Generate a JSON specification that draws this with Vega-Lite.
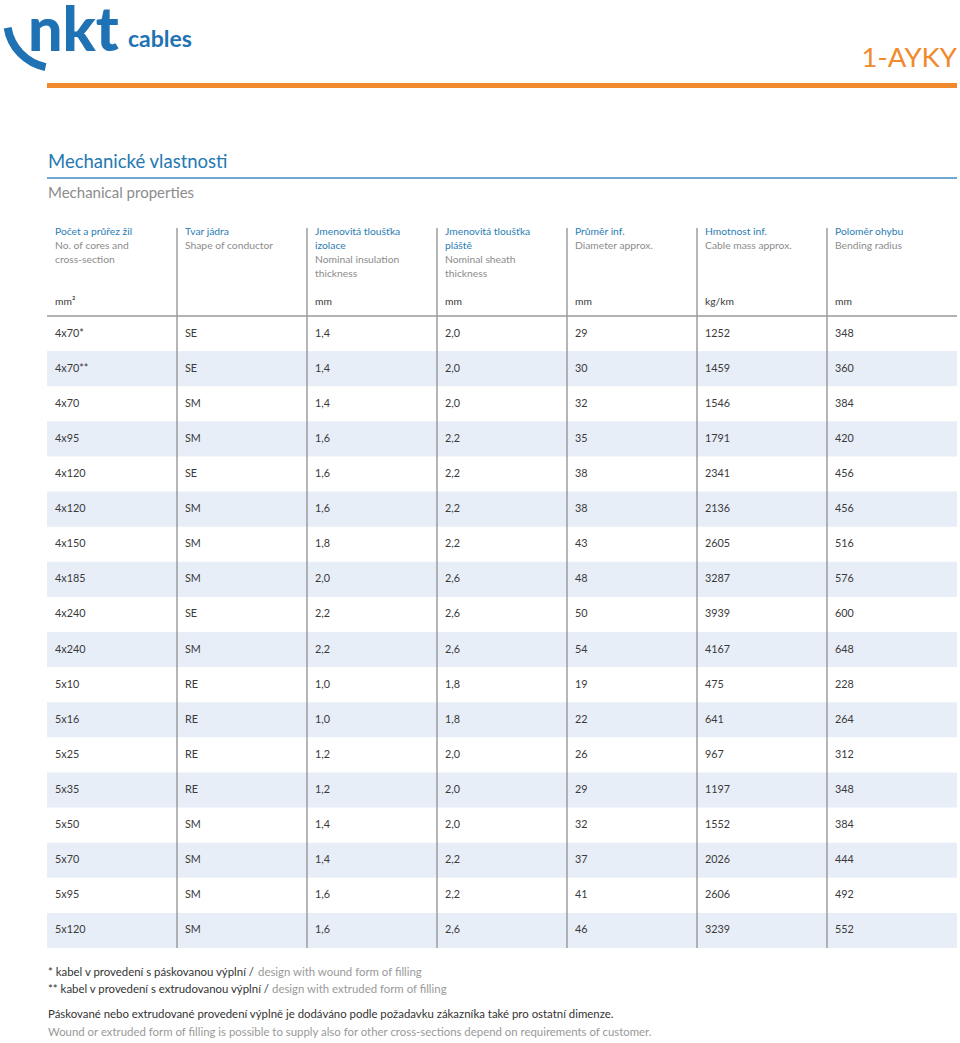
{
  "$schema": "https://vega.github.io/schema/vega-lite/v6.json",
  "width": 960,
  "height": 1043,
  "autosize": {"type": "none"},
  "padding": 0,
  "background": "white",
  "config": {"view": {"stroke": null}, "text": {"font": "Lato"}},
  "datasets": {
    "cables": [
      {"r": 1, "a": "4x70*", "shape": "SE", "ins": "1,4", "sheath": "2,0", "dia": "29", "mass": "1252", "radius": "348"},
      {"r": 2, "a": "4x70**", "shape": "SE", "ins": "1,4", "sheath": "2,0", "dia": "30", "mass": "1459", "radius": "360"},
      {"r": 3, "a": "4x70", "shape": "SM", "ins": "1,4", "sheath": "2,0", "dia": "32", "mass": "1546", "radius": "384"},
      {"r": 4, "a": "4x95", "shape": "SM", "ins": "1,6", "sheath": "2,2", "dia": "35", "mass": "1791", "radius": "420"},
      {"r": 5, "a": "4x120", "shape": "SE", "ins": "1,6", "sheath": "2,2", "dia": "38", "mass": "2341", "radius": "456"},
      {"r": 6, "a": "4x120", "shape": "SM", "ins": "1,6", "sheath": "2,2", "dia": "38", "mass": "2136", "radius": "456"},
      {"r": 7, "a": "4x150", "shape": "SM", "ins": "1,8", "sheath": "2,2", "dia": "43", "mass": "2605", "radius": "516"},
      {"r": 8, "a": "4x185", "shape": "SM", "ins": "2,0", "sheath": "2,6", "dia": "48", "mass": "3287", "radius": "576"},
      {"r": 9, "a": "4x240", "shape": "SE", "ins": "2,2", "sheath": "2,6", "dia": "50", "mass": "3939", "radius": "600"},
      {"r": 10, "a": "4x240", "shape": "SM", "ins": "2,2", "sheath": "2,6", "dia": "54", "mass": "4167", "radius": "648"},
      {"r": 11, "a": "5x10", "shape": "RE", "ins": "1,0", "sheath": "1,8", "dia": "19", "mass": "475", "radius": "228"},
      {"r": 12, "a": "5x16", "shape": "RE", "ins": "1,0", "sheath": "1,8", "dia": "22", "mass": "641", "radius": "264"},
      {"r": 13, "a": "5x25", "shape": "RE", "ins": "1,2", "sheath": "2,0", "dia": "26", "mass": "967", "radius": "312"},
      {"r": 14, "a": "5x35", "shape": "RE", "ins": "1,2", "sheath": "2,0", "dia": "29", "mass": "1197", "radius": "348"},
      {"r": 15, "a": "5x50", "shape": "SM", "ins": "1,4", "sheath": "2,0", "dia": "32", "mass": "1552", "radius": "384"},
      {"r": 16, "a": "5x70", "shape": "SM", "ins": "1,4", "sheath": "2,2", "dia": "37", "mass": "2026", "radius": "444"},
      {"r": 17, "a": "5x95", "shape": "SM", "ins": "1,6", "sheath": "2,2", "dia": "41", "mass": "2606", "radius": "492"},
      {"r": 18, "a": "5x120", "shape": "SM", "ins": "1,6", "sheath": "2,6", "dia": "46", "mass": "3239", "radius": "552"}
    ],
    "header": [
      {"col": "a", "line": 0, "kind": "cz", "text": "Počet a průřez žil"},
      {"col": "a", "line": 1, "kind": "en", "text": "No. of cores and"},
      {"col": "a", "line": 2, "kind": "en", "text": "cross-section"},
      {"col": "a", "line": 5, "kind": "unit", "text": "mm²"},
      {"col": "shape", "line": 0, "kind": "cz", "text": "Tvar jádra"},
      {"col": "shape", "line": 1, "kind": "en", "text": "Shape of conductor"},
      {"col": "ins", "line": 0, "kind": "cz", "text": "Jmenovitá tloušťka"},
      {"col": "ins", "line": 1, "kind": "cz", "text": "izolace"},
      {"col": "ins", "line": 2, "kind": "en", "text": "Nominal insulation"},
      {"col": "ins", "line": 3, "kind": "en", "text": "thickness"},
      {"col": "ins", "line": 5, "kind": "unit", "text": "mm"},
      {"col": "sheath", "line": 0, "kind": "cz", "text": "Jmenovitá tloušťka"},
      {"col": "sheath", "line": 1, "kind": "cz", "text": "pláště"},
      {"col": "sheath", "line": 2, "kind": "en", "text": "Nominal sheath"},
      {"col": "sheath", "line": 3, "kind": "en", "text": "thickness"},
      {"col": "sheath", "line": 5, "kind": "unit", "text": "mm"},
      {"col": "dia", "line": 0, "kind": "cz", "text": "Průměr inf."},
      {"col": "dia", "line": 1, "kind": "en", "text": "Diameter approx."},
      {"col": "dia", "line": 5, "kind": "unit", "text": "mm"},
      {"col": "mass", "line": 0, "kind": "cz", "text": "Hmotnost inf."},
      {"col": "mass", "line": 1, "kind": "en", "text": "Cable mass approx."},
      {"col": "mass", "line": 5, "kind": "unit", "text": "kg/km"},
      {"col": "radius", "line": 0, "kind": "cz", "text": "Poloměr ohybu"},
      {"col": "radius", "line": 1, "kind": "en", "text": "Bending radius"},
      {"col": "radius", "line": 5, "kind": "unit", "text": "mm"}
    ],
    "seps": [
      {"col": "shape"}, {"col": "ins"}, {"col": "sheath"}, {"col": "dia"}, {"col": "mass"}, {"col": "radius"}
    ],
    "notes": [
      {"key": "nkt", "text": "nkt"},
      {"key": "cables", "text": "cables"},
      {"key": "code", "text": "1-AYKY"},
      {"key": "title", "text": "Mechanické vlastnosti"},
      {"key": "subtitle", "text": "Mechanical properties"},
      {"key": "f1cz", "text": "* kabel v provedení s páskovanou výplní /"},
      {"key": "f1en", "text": "design with wound form of filling"},
      {"key": "f2cz", "text": "** kabel v provedení s extrudovanou výplní /"},
      {"key": "f2en", "text": "design with extruded form of filling"},
      {"key": "f3", "text": "Páskované nebo extrudované provedení výplně je dodáváno podle požadavku zákazníka také pro ostatní dimenze."},
      {"key": "f4", "text": "Wound or extruded form of filling is possible to supply also for other cross-sections depend on requirements of customer."}
    ]
  },
  "resolve": {"scale": {"y": "independent"}},
  "layer": [
    {
      "data": {"name": "cables"},
      "transform": [
        {"fold": ["a", "shape", "ins", "sheath", "dia", "mass", "radius"], "as": ["col", "val"]},
        {"filter": "datum.r % 2 == 0"}
      ],
      "mark": {"type": "rect", "color": "#e8eef7"},
      "encoding": {
        "x": {"field": "col", "type": "nominal", "axis": null,
              "scale": {"type": "band", "domain": ["a", "shape", "ins", "sheath", "dia", "mass", "radius"], "range": [47, 957], "paddingInner": 0, "paddingOuter": 0}},
        "y": {"field": "r", "type": "ordinal", "axis": null,
              "scale": {"type": "band", "domain": [1,2,3,4,5,6,7,8,9,10,11,12,13,14,15,16,17,18], "range": [316, 948], "paddingInner": 0, "paddingOuter": 0}}
      }
    },
    {
      "data": {"name": "seps"},
      "mark": {"type": "rule", "color": "#8e8e8e", "strokeWidth": 1.3},
      "encoding": {
        "x": {"field": "col", "type": "nominal", "bandPosition": 0, "axis": null},
        "y": {"datum": 0, "type": "quantitative", "axis": null, "scale": {"domain": [0, 1], "range": [228, 948], "nice": false, "zero": false}},
        "y2": {"datum": 1}
      }
    },
    {
      "data": {"values": [{}]},
      "mark": {"type": "rule", "color": "#9a9a9a", "strokeWidth": 1.4},
      "encoding": {
        "x": {"datum": "a", "type": "nominal", "bandPosition": 0, "axis": null},
        "x2": {"datum": "radius", "bandPosition": 1},
        "y": {"datum": 6, "type": "quantitative", "axis": null, "scale": {"domain": [0, 5], "range": [232, 302], "nice": false, "zero": false}}
      }
    },
    {
      "data": {"name": "header"},
      "mark": {"type": "text", "align": "left", "baseline": "middle", "dx": 8},
      "encoding": {
        "x": {"field": "col", "type": "nominal", "bandPosition": 0, "axis": null},
        "y": {"field": "line", "type": "quantitative", "axis": null, "scale": {"domain": [0, 5], "range": [232, 302], "nice": false, "zero": false}},
        "text": {"field": "text"},
        "color": {"field": "kind", "type": "nominal", "legend": null, "scale": {"domain": ["cz", "en", "unit"], "range": ["#2a7db5", "#8c8c8c", "#3a3a3a"]}},
        "size": {"field": "kind", "type": "nominal", "legend": null, "scale": {"domain": ["cz", "en", "unit"], "range": [10.3, 10.3, 11.6]}}
      }
    },
    {
      "data": {"name": "cables"},
      "transform": [
        {"fold": ["a", "shape", "ins", "sheath", "dia", "mass", "radius"], "as": ["col", "val"]}
      ],
      "mark": {"type": "text", "align": "left", "baseline": "middle", "dx": 8, "fontSize": 10.8, "color": "#3a3a3a"},
      "encoding": {
        "x": {"field": "col", "type": "nominal", "bandPosition": 0, "axis": null},
        "y": {"field": "r", "type": "ordinal", "axis": null,
              "scale": {"type": "band", "domain": [1,2,3,4,5,6,7,8,9,10,11,12,13,14,15,16,17,18], "range": [316, 948], "paddingInner": 0, "paddingOuter": 0}},
        "text": {"field": "val"}
      }
    },
    {
      "data": {"values": [{}]},
      "mark": {"type": "arc", "x": 55, "y": 20, "theta": 3.34, "theta2": 4.55, "radius": 52, "radius2": 44, "color": "#1f72b4"},
      "encoding": {}
    },
    {
      "data": {"name": "notes"},
      "transform": [{"filter": "datum.key == 'nkt'"}],
      "mark": {"type": "text", "align": "left", "baseline": "alphabetic", "x": 28, "y": 51, "fontSize": 61, "fontWeight": 900, "color": "#1f72b4"},
      "encoding": {"text": {"field": "text"}}
    },
    {
      "data": {"name": "notes"},
      "transform": [{"filter": "datum.key == 'cables'"}],
      "mark": {"type": "text", "align": "left", "baseline": "alphabetic", "x": 128, "y": 47, "fontSize": 23, "fontWeight": "bold", "color": "#1f72b4"},
      "encoding": {"text": {"field": "text"}}
    },
    {
      "data": {"name": "notes"},
      "transform": [{"filter": "datum.key == 'code'"}],
      "mark": {"type": "text", "align": "right", "baseline": "alphabetic", "x": 957, "y": 67, "fontSize": 27.5, "color": "#f08a2c"},
      "encoding": {"text": {"field": "text"}}
    },
    {
      "data": {"values": [{}]},
      "mark": {"type": "rule", "color": "#f08a2c", "strokeWidth": 5},
      "encoding": {
        "x": {"datum": "a", "type": "nominal", "bandPosition": 0, "axis": null},
        "x2": {"datum": "radius", "bandPosition": 1},
        "y": {"value": 85.5}
      }
    },
    {
      "data": {"name": "notes"},
      "transform": [{"filter": "datum.key == 'title'"}],
      "mark": {"type": "text", "align": "left", "baseline": "middle", "x": 48, "y": 162, "fontSize": 18.5, "color": "#2479b2"},
      "encoding": {"text": {"field": "text"}}
    },
    {
      "data": {"values": [{}]},
      "mark": {"type": "rule", "color": "#3d8cc0", "strokeWidth": 1.5},
      "encoding": {
        "x": {"datum": "a", "type": "nominal", "bandPosition": 0, "axis": null},
        "x2": {"datum": "radius", "bandPosition": 1},
        "y": {"value": 178}
      }
    },
    {
      "data": {"name": "notes"},
      "transform": [{"filter": "datum.key == 'subtitle'"}],
      "mark": {"type": "text", "align": "left", "baseline": "middle", "x": 48, "y": 193, "fontSize": 15, "color": "#8c8c8c"},
      "encoding": {"text": {"field": "text"}}
    },
    {
      "data": {"name": "notes"},
      "transform": [{"filter": "datum.key == 'f1cz'"}],
      "mark": {"type": "text", "align": "left", "baseline": "middle", "x": 48, "y": 973, "fontSize": 11.4, "color": "#333333"},
      "encoding": {"text": {"field": "text"}}
    },
    {
      "data": {"name": "notes"},
      "transform": [{"filter": "datum.key == 'f1en'"}],
      "mark": {"type": "text", "align": "left", "baseline": "middle", "x": 258, "y": 973, "fontSize": 11.4, "color": "#999999"},
      "encoding": {"text": {"field": "text"}}
    },
    {
      "data": {"name": "notes"},
      "transform": [{"filter": "datum.key == 'f2cz'"}],
      "mark": {"type": "text", "align": "left", "baseline": "middle", "x": 48, "y": 990, "fontSize": 11.4, "color": "#333333"},
      "encoding": {"text": {"field": "text"}}
    },
    {
      "data": {"name": "notes"},
      "transform": [{"filter": "datum.key == 'f2en'"}],
      "mark": {"type": "text", "align": "left", "baseline": "middle", "x": 272, "y": 990, "fontSize": 11.4, "color": "#999999"},
      "encoding": {"text": {"field": "text"}}
    },
    {
      "data": {"name": "notes"},
      "transform": [{"filter": "datum.key == 'f3'"}],
      "mark": {"type": "text", "align": "left", "baseline": "middle", "x": 48, "y": 1015, "fontSize": 11.4, "color": "#333333"},
      "encoding": {"text": {"field": "text"}}
    },
    {
      "data": {"name": "notes"},
      "transform": [{"filter": "datum.key == 'f4'"}],
      "mark": {"type": "text", "align": "left", "baseline": "middle", "x": 48, "y": 1033, "fontSize": 11.4, "color": "#999999"},
      "encoding": {"text": {"field": "text"}}
    }
  ]
}
